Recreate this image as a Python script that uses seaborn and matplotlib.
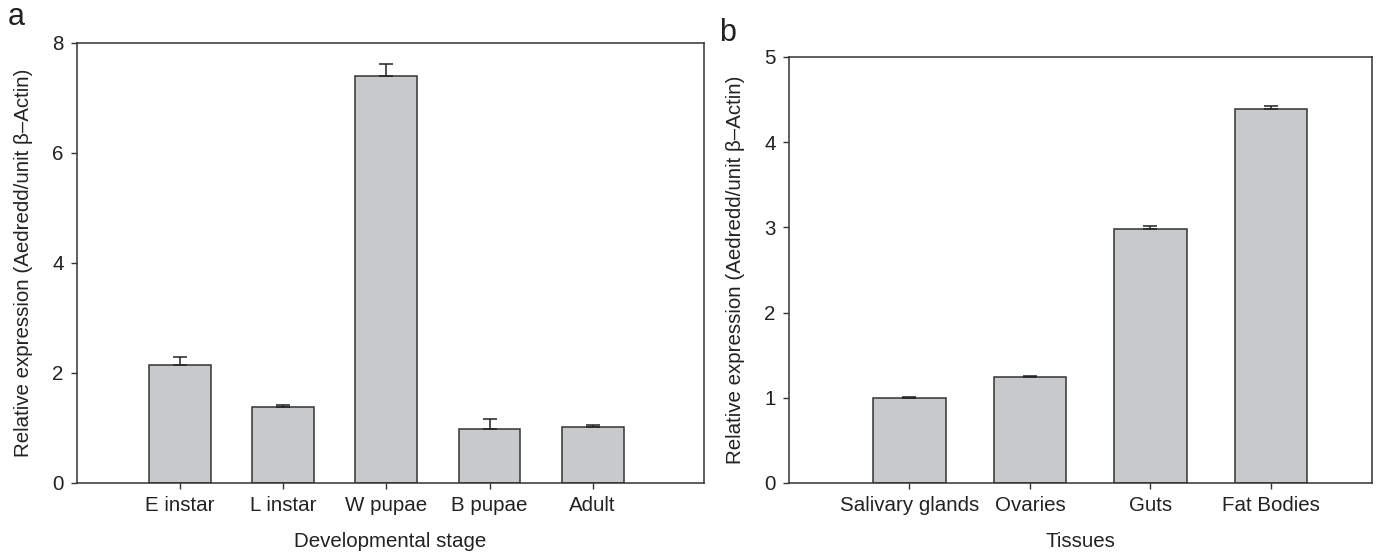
import seaborn as sns
import matplotlib.pyplot as plt
import pandas as pd
import numpy as np

# panel a: developmental stages
stages = ['E instar', 'L instar', 'W pupae', 'B pupae', 'Adult']
stage_mean = [2.15, 1.38, 7.40, 0.98, 1.01]
stage_err = [0.15, 0.04, 0.22, 0.19, 0.04]

# panel b: tissues
tissues = ['Salivary glands', 'Ovaries', 'Guts', 'Fat Bodies']
tissue_mean = [1.00, 1.25, 2.98, 4.39]
tissue_err = [0.01, 0.01, 0.04, 0.04]

sns.set_style('white')
plt.rcParams['font.family'] = ['Liberation Sans', 'DejaVu Sans']

ylab = 'Relative expression (Aedredd/unit \u03b2\u2013Actin)'
bar_col = '#c8c9cb'
fs = 14.8

fig = plt.figure(figsize=(13.99, 5.56), dpi=100)
ax1 = fig.add_axes([77/1399, 1 - 483/556, (704-77)/1399, (483-43)/556])
ax2 = fig.add_axes([789/1399, 1 - 483/556, (1372-789)/1399, (483-57)/556])

def draw(ax, cats, means, errs, xlabel, ylim, yticks, xlim):
    df = pd.DataFrame({'cat': cats, 'val': means})
    sns.barplot(data=df, x='cat', y='val', color=bar_col, width=0.6,
                edgecolor='#333333', linewidth=1.1, saturation=1, ax=ax)
    x = np.arange(len(cats))
    ax.errorbar(x, means, yerr=[np.zeros(len(errs)), errs], fmt='none',
                ecolor='#222222', elinewidth=1.1, capsize=5, capthick=1.1)
    ax.set_ylim(*ylim)
    ax.set_yticks(yticks)
    ax.set_xlim(*xlim)
    ax.set_xlabel(xlabel, fontsize=fs, labelpad=12, color='#222222')
    ax.set_ylabel(ylab, fontsize=fs, labelpad=14, color='#222222')
    for s in ax.spines.values():
        s.set_color('#333333')
        s.set_linewidth(1.1)
    ax.tick_params(axis='both', which='both', direction='out', length=4.5,
                   width=1, color='#333333', labelsize=fs, pad=5,
                   labelcolor='#222222',
                   left=True, bottom=True, top=False, right=False)

draw(ax1, stages, stage_mean, stage_err, 'Developmental stage',
     (0, 8), [0, 2, 4, 6, 8], (-1.0, 5.08))
draw(ax2, tissues, tissue_mean, tissue_err, 'Tissues',
     (0, 5), [0, 1, 2, 3, 4, 5], (-1.0, 3.84))

fig.text(8/1399, 1 - 25/556, 'a', fontsize=22, va='baseline', color='#222222')
fig.text(719/1399, 1 - 41/556, 'b', fontsize=22, va='baseline', color='#222222')

plt.savefig('out.png', dpi=100)
